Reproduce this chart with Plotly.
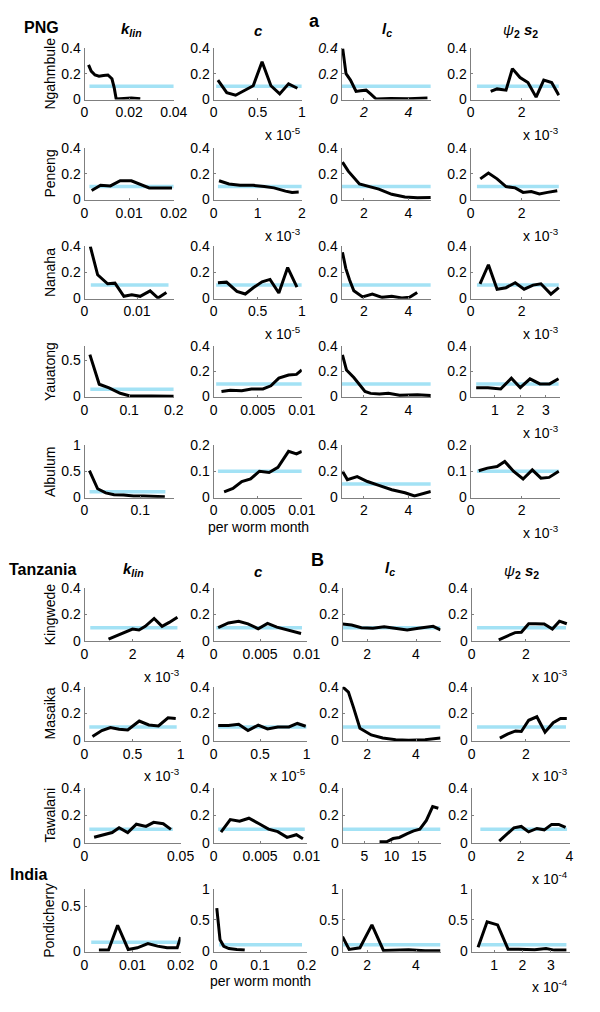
import plotly.graph_objects as go

W, H = 600, 1012
FONT = "Liberation Sans, Arial, sans-serif"

SITES = ["Ngahmbule", "Peneng", "Nanaha", "Yauatong", "Albulum",
         "Kingwede", "Masaika", "Tawalani", "Pondicherry"]

# ---------------- data (posterior curves) ----------------
NGA_KLIN_X = [0.0018, 0.003, 0.0047, 0.0065, 0.0085, 0.0105, 0.0123, 0.0133, 0.0142, 0.017, 0.021, 0.025]
NGA_KLIN_Y = [0.27, 0.22, 0.19, 0.18, 0.185, 0.19, 0.16, 0.09, 0.0, 0.003, 0.008, 0.003]
NGA_C_X = [0.05, 0.15, 0.25, 0.35, 0.45, 0.55, 0.65, 0.75, 0.85, 0.95]
NGA_C_Y = [0.15, 0.05, 0.03, 0.07, 0.105, 0.295, 0.105, 0.04, 0.12, 0.085]
NGA_LC_X = [1.05, 1.2, 1.4, 1.65, 1.85, 2.1, 2.3, 2.55, 3.2, 4.0, 4.85]
NGA_LC_Y = [0.40, 0.20, 0.15, 0.06, 0.065, 0.07, 0.04, 0.0, 0.005, 0.003, 0.008]
NGA_PSI_X = [0.79, 1.04, 1.39, 1.64, 1.94, 2.25, 2.57, 2.87, 3.18, 3.46]
NGA_PSI_Y = [0.06, 0.08, 0.07, 0.24, 0.17, 0.13, 0.015, 0.15, 0.13, 0.03]

PEN_KLIN_X = [0.0016, 0.0036, 0.0058, 0.008, 0.0105, 0.0124, 0.0145, 0.0167, 0.0196]
PEN_KLIN_Y = [0.07, 0.11, 0.105, 0.145, 0.145, 0.12, 0.09, 0.09, 0.09]
PEN_C_X = [0.125, 0.35, 0.6, 0.9, 1.15, 1.37, 1.63, 1.78, 1.93]
PEN_C_Y = [0.145, 0.12, 0.11, 0.11, 0.10, 0.09, 0.065, 0.055, 0.058]
PEN_LC_X = [1.04, 1.3, 1.8, 2.24, 2.67, 3.25, 3.84, 4.4, 5.0]
PEN_LC_Y = [0.29, 0.22, 0.12, 0.10, 0.08, 0.04, 0.02, 0.013, 0.015]
PEN_PSI_X = [0.38, 0.7, 1.04, 1.39, 1.75, 2.06, 2.38, 2.7, 3.02, 3.4]
PEN_PSI_Y = [0.16, 0.205, 0.16, 0.10, 0.09, 0.055, 0.062, 0.043, 0.055, 0.068]

NAN_KLIN_X = [0.0011, 0.0025, 0.0044, 0.0058, 0.0075, 0.009, 0.0106, 0.0125, 0.014, 0.0156]
NAN_KLIN_Y = [0.40, 0.18, 0.11, 0.115, 0.013, 0.025, 0.013, 0.055, 0.0, 0.043]
NAN_C_X = [0.05, 0.147, 0.265, 0.36, 0.45, 0.55, 0.64, 0.74, 0.84, 0.945]
NAN_C_Y = [0.118, 0.123, 0.052, 0.031, 0.079, 0.126, 0.144, 0.039, 0.236, 0.084]
NAN_LC_X = [1.04, 1.19, 1.36, 1.55, 1.94, 2.38, 2.82, 3.25, 3.7, 4.05, 4.39]
NAN_LC_Y = [0.355, 0.23, 0.14, 0.056, 0.008, 0.03, 0.005, 0.013, 0.0, 0.005, 0.043]
NAN_PSI_X = [0.37, 0.70, 1.04, 1.39, 1.75, 2.1, 2.45, 2.76, 3.15, 3.46]
NAN_PSI_Y = [0.109, 0.258, 0.068, 0.08, 0.118, 0.068, 0.1, 0.11, 0.03, 0.08]

YAU_KLIN_X = [0.012, 0.033, 0.055, 0.08, 0.1, 0.125, 0.15, 0.175, 0.2]
YAU_KLIN_Y = [0.58, 0.17, 0.12, 0.045, 0.012, 0.012, 0.008, 0.01, 0.004]
YAU_C_X = [0.0009, 0.0019, 0.0032, 0.0043, 0.0056, 0.0065, 0.0074, 0.0085, 0.0094, 0.01]
YAU_C_Y = [0.04, 0.05, 0.045, 0.06, 0.06, 0.085, 0.145, 0.17, 0.175, 0.21]
YAU_LC_X = [1.04, 1.22, 1.55, 1.8, 2.05, 2.3, 2.7, 3.1, 3.6, 4.0, 4.4, 5.0]
YAU_LC_Y = [0.33, 0.21, 0.15, 0.09, 0.04, 0.025, 0.02, 0.025, 0.01, 0.012, 0.015, 0.008]
YAU_PSI_X = [0.27, 0.73, 1.23, 1.65, 2.0, 2.38, 2.77, 3.15, 3.5]
YAU_PSI_Y = [0.07, 0.07, 0.06, 0.145, 0.07, 0.14, 0.1, 0.1, 0.14]

ALB_KLIN_X = [0.0088, 0.0235, 0.038, 0.053, 0.07, 0.088, 0.106, 0.124, 0.144]
ALB_KLIN_Y = [0.51, 0.16, 0.08, 0.045, 0.04, 0.02, 0.02, 0.013, 0.005]
ALB_C_X = [0.0012, 0.0022, 0.0032, 0.0042, 0.0052, 0.0063, 0.0073, 0.0085, 0.0094, 0.01]
ALB_C_Y = [0.02, 0.033, 0.06, 0.07, 0.10, 0.095, 0.115, 0.177, 0.167, 0.177]
ALB_LC_X = [1.04, 1.26, 1.7, 2.16, 2.67, 3.25, 3.84, 4.27, 5.0]
ALB_LC_Y = [0.2, 0.135, 0.158, 0.12, 0.09, 0.056, 0.033, 0.008, 0.043]
ALB_PSI_X = [0.32, 0.66, 1.04, 1.34, 1.68, 2.06, 2.42, 2.76, 3.08, 3.46]
ALB_PSI_Y = [0.102, 0.112, 0.118, 0.138, 0.10, 0.07, 0.105, 0.073, 0.076, 0.10]

KIN_KLIN_X = [1.0, 1.6, 2.0, 2.27, 2.53, 2.9, 3.23, 3.53, 3.87]
KIN_KLIN_Y = [0.0125, 0.0625, 0.09, 0.083, 0.11, 0.17, 0.11, 0.14, 0.18]
KIN_C_X = [0.0005, 0.0016, 0.0027, 0.0037, 0.0048, 0.0058, 0.0068, 0.008, 0.0094]
KIN_C_Y = [0.10, 0.136, 0.148, 0.129, 0.092, 0.133, 0.104, 0.08, 0.056]
KIN_LC_X = [1.0, 1.37, 1.77, 2.24, 2.7, 3.17, 3.64, 4.1, 4.7, 5.0]
KIN_LC_Y = [0.128, 0.12, 0.10, 0.095, 0.107, 0.095, 0.083, 0.095, 0.11, 0.083]
KIN_PSI_X = [1.0, 1.32, 1.6, 1.83, 2.1, 2.36, 2.67, 2.97, 3.23, 3.5]
KIN_PSI_Y = [0.008, 0.04, 0.0625, 0.065, 0.13, 0.13, 0.128, 0.09, 0.15, 0.13]

MAS_KLIN_X = [0.083, 0.18, 0.27, 0.36, 0.45, 0.57, 0.67, 0.77, 0.87, 0.95]
MAS_KLIN_Y = [0.029, 0.073, 0.095, 0.083, 0.078, 0.144, 0.115, 0.107, 0.168, 0.163]
MAS_C_X = [0.05, 0.16, 0.27, 0.37, 0.48, 0.58, 0.69, 0.81, 0.9, 0.99]
MAS_C_Y = [0.11, 0.11, 0.12, 0.073, 0.114, 0.085, 0.10, 0.10, 0.126, 0.105]
MAS_LC_X = [1.0, 1.24, 1.44, 1.71, 2.17, 2.64, 3.17, 3.7, 4.37, 5.0]
MAS_LC_Y = [0.40, 0.36, 0.25, 0.09, 0.04, 0.017, 0.005, 0.0, 0.005, 0.017]
MAS_PSI_X = [1.04, 1.32, 1.62, 1.83, 2.1, 2.4, 2.7, 3.0, 3.27, 3.5]
MAS_PSI_Y = [0.017, 0.046, 0.07, 0.066, 0.15, 0.176, 0.061, 0.132, 0.163, 0.163]

TAW_KLIN_X = [0.005, 0.01, 0.0144, 0.018, 0.0225, 0.027, 0.032, 0.036, 0.041, 0.045]
TAW_KLIN_Y = [0.041, 0.057, 0.075, 0.11, 0.075, 0.136, 0.12, 0.15, 0.14, 0.098]
TAW_C_X = [0.0008, 0.0018, 0.0028, 0.0038, 0.0049, 0.0059, 0.0069, 0.0079, 0.0089, 0.0096]
TAW_C_Y = [0.078, 0.17, 0.158, 0.18, 0.14, 0.1, 0.082, 0.04, 0.059, 0.03]
TAW_LC_X = [7.8, 9.1, 10.3, 11.45, 12.9, 14.07, 15.2, 16.4, 17.56, 18.6]
TAW_LC_Y = [0.007, 0.007, 0.031, 0.039, 0.067, 0.087, 0.1, 0.164, 0.265, 0.253]
TAW_PSI_X = [1.13, 1.44, 1.73, 2.03, 2.33, 2.67, 2.97, 3.27, 3.56, 3.84]
TAW_PSI_Y = [0.012, 0.06, 0.11, 0.12, 0.08, 0.105, 0.095, 0.135, 0.135, 0.113]

PON_KLIN_X = [0.003, 0.005, 0.0069, 0.0091, 0.011, 0.0132, 0.0152, 0.0172, 0.0193, 0.02]
PON_KLIN_Y = [0.011, 0.011, 0.29, 0.018, 0.036, 0.084, 0.055, 0.036, 0.036, 0.157]
PON_C_X = [0.007, 0.014, 0.022, 0.033, 0.05, 0.067]
PON_C_Y = [0.69, 0.18, 0.077, 0.04, 0.026, 0.015]
PON_LC_X = [1.0, 1.27, 1.71, 2.2, 2.67, 3.3, 3.7, 4.37, 5.0]
PON_LC_Y = [0.23, 0.026, 0.052, 0.42, 0.01, 0.02, 0.02, 0.005, 0.003]
PON_PSI_X = [0.43, 0.75, 1.12, 1.49, 1.86, 2.43, 2.83, 3.12, 3.55]
PON_PSI_Y = [0.06, 0.47, 0.42, 0.03, 0.03, 0.02, 0.04, 0.015, 0.015]

CURVES = [
    [(NGA_KLIN_X, NGA_KLIN_Y), (NGA_C_X, NGA_C_Y), (NGA_LC_X, NGA_LC_Y), (NGA_PSI_X, NGA_PSI_Y)],
    [(PEN_KLIN_X, PEN_KLIN_Y), (PEN_C_X, PEN_C_Y), (PEN_LC_X, PEN_LC_Y), (PEN_PSI_X, PEN_PSI_Y)],
    [(NAN_KLIN_X, NAN_KLIN_Y), (NAN_C_X, NAN_C_Y), (NAN_LC_X, NAN_LC_Y), (NAN_PSI_X, NAN_PSI_Y)],
    [(YAU_KLIN_X, YAU_KLIN_Y), (YAU_C_X, YAU_C_Y), (YAU_LC_X, YAU_LC_Y), (YAU_PSI_X, YAU_PSI_Y)],
    [(ALB_KLIN_X, ALB_KLIN_Y), (ALB_C_X, ALB_C_Y), (ALB_LC_X, ALB_LC_Y), (ALB_PSI_X, ALB_PSI_Y)],
    [(KIN_KLIN_X, KIN_KLIN_Y), (KIN_C_X, KIN_C_Y), (KIN_LC_X, KIN_LC_Y), (KIN_PSI_X, KIN_PSI_Y)],
    [(MAS_KLIN_X, MAS_KLIN_Y), (MAS_C_X, MAS_C_Y), (MAS_LC_X, MAS_LC_Y), (MAS_PSI_X, MAS_PSI_Y)],
    [(TAW_KLIN_X, TAW_KLIN_Y), (TAW_C_X, TAW_C_Y), (TAW_LC_X, TAW_LC_Y), (TAW_PSI_X, TAW_PSI_Y)],
    [(PON_KLIN_X, PON_KLIN_Y), (PON_C_X, PON_C_Y), (PON_LC_X, PON_LC_Y), (PON_PSI_X, PON_PSI_Y)],
]

# uniform prior level and its support
PRIOR_LEVEL = 0.1
PRIOR_START = [
    [0.0022, 0.03, 1, 0.25], [0.0011, 0.1, 1, 0.25], [0.0012, 0.03, 1, 0.25],
    [0.013, 0.0003, 1, 0.27], [0.009, 0.0005, 1, 0.25], [0.24, 0.0003, 1, 0.2],
    [0.05, 0.05, 1, 0.2], [0.0025, 0.0005, 1, 0.36], [0.0014, 0.012, 1, 0.43]]
PRIOR_END = [
    [0.04, 1.0, 5, 3.46], [0.02, 2.0, 5, 3.46], [0.016, 1.0, 5, 3.46],
    [0.2, 0.01, 5, 3.5], [0.145, 0.01, 5, 3.46], [3.87, 0.0095, 5, 3.47],
    [0.96, 1.0, 5, 3.47], [0.046, 0.0098, 19, 3.9], [0.02, 0.19, 5, 3.55]]

# axis ranges / ticks
X_RANGES = [
    [[0, 0.04], [0, 1], [1, 5], [0, 3.5]],
    [[0, 0.02], [0, 2], [1, 5], [0, 3.5]],
    [[0, 0.017], [0, 1], [1, 5], [0, 3.5]],
    [[0, 0.2], [0, 0.01], [1, 5], [0.05, 3.55]],
    [[0, 0.16], [0, 0.01], [1, 5], [0, 3.5]],
    [[0, 4], [0, 0.01], [1, 5], [0, 3.6]],
    [[0, 1], [0, 1], [1, 5], [0, 3.6]],
    [[0, 0.05], [0, 0.01], [1, 19], [0, 4]],
    [[0, 0.02], [0, 0.2], [1, 5], [0.2, 3.66]],
]
X_TICKS = [
    [["0", "0.02", "0.04"], ["0", "0.5", "1"], ["2", "4"], ["0", "2"]],
    [["0", "0.01", "0.02"], ["0", "1", "2"], ["2", "4"], ["0", "2"]],
    [["0", "0.01"], ["0", "0.5", "1"], ["2", "4"], ["0", "2"]],
    [["0", "0.1", "0.2"], ["0", "0.005", "0.01"], ["2", "4"], ["1", "2", "3"]],
    [["0", "0.1"], ["0", "0.005", "0.01"], ["2", "4"], ["0", "2"]],
    [["0", "2", "4"], ["0", "0.005", "0.01"], ["2", "4"], ["0", "2"]],
    [["0", "0.5", "1"], ["0", "0.5", "1"], ["2", "4"], ["0", "2"]],
    [["0", "0.05"], ["0", "0.005", "0.01"], ["5", "10", "15"], ["0", "2", "4"]],
    [["0", "0.01", "0.02"], ["0", "0.1", "0.2"], ["2", "4"], ["1", "2", "3"]],
]
Y_TOPS = [
    [0.4, 0.4, 0.4, 0.4], [0.4, 0.4, 0.4, 0.4], [0.4, 0.4, 0.4, 0.4],
    [0.7, 0.4, 0.4, 0.4], [1, 0.2, 0.4, 0.2], [0.4, 0.4, 0.4, 0.4],
    [0.4, 0.4, 0.4, 0.4], [0.4, 0.4, 0.4, 0.4], [0.7, 1, 1, 1]]
Y_TICKS = {0.4: ["0", "0.2", "0.4"], 0.7: ["0", "0.5"], 1: ["0", "0.5", "1"], 0.2: ["0", "0.1", "0.2"]}
EXPONENTS = [
    [None, "-5", None, "-3"], [None, "-3", None, "-3"], [None, "-5", None, "-3"],
    [None, None, None, "-3"], [None, None, None, "-3"], ["-3", None, None, "-3"],
    ["-3", "-5", None, "-3"], [None, None, None, "-4"], [None, None, None, "-4"]]

# ---------------- layout geometry (pixels) ----------------
ROW_PX = [(41, 93), (142, 195), (242, 295), (343, 395), (444, 497),
          (589, 643), (689, 744), (792, 848), (894, 958)]
COL_PNG = [(83, 175), (216, 307), (348, 440), (481, 573)]
COL_TZ = [(83, 182), (216, 312), (349, 450), (482, 583)]

GRAY = "#7f7f7f"
BLUE = "#a3e2f5"
TICK_SIZE = 14

fig = go.Figure()
layout = dict(width=W, height=H, margin=dict(l=0, r=0, t=0, b=0),
              paper_bgcolor="white", plot_bgcolor="white", showlegend=False,
              font=dict(family=FONT, color="black", size=14))
annotations = []


def px_x(p):
    return p / W


def px_y(p):
    return 1 - p / H


for r in range(9):
    cols = COL_PNG if r < 5 else COL_TZ
    top, bot = ROW_PX[r]
    for c in range(4):
        i = r * 4 + c + 1
        sx = "" if i == 1 else str(i)
        xa, ya = "x" + sx, "y" + sx
        x0, x1 = cols[c]
        xr = X_RANGES[r][c]
        ytop = Y_TOPS[r][c]
        italic = (r == 0 and c == 2)
        tf = dict(size=TICK_SIZE, color="black", family=FONT)
        if italic:
            tf["style"] = "italic"
        xt = X_TICKS[r][c]
        yt = Y_TICKS[ytop]
        layout["xaxis" + sx] = dict(
            domain=[px_x(x0), px_x(x1)], anchor=ya, range=xr,
            tickvals=[float(t) for t in xt], ticktext=xt,
            showline=True, linecolor=GRAY, linewidth=1, ticks="inside",
            ticklen=2, tickcolor=GRAY, showgrid=False, zeroline=False,
            tickfont=tf, fixedrange=True)
        layout["yaxis" + sx] = dict(
            domain=[px_y(bot), px_y(top)], anchor=xa,
            range=[-0.012 * ytop, ytop],
            tickvals=[float(t) for t in yt], ticktext=yt,
            showline=True, linecolor=GRAY, linewidth=1, ticks="inside",
            ticklen=2, tickcolor=GRAY, showgrid=False, zeroline=False,
            tickfont=tf, fixedrange=True)
        # prior line
        fig.add_trace(go.Scatter(
            x=[PRIOR_START[r][c], PRIOR_END[r][c]], y=[PRIOR_LEVEL, PRIOR_LEVEL],
            mode="lines", line=dict(color=BLUE, width=3.5), xaxis=xa, yaxis=ya,
            hoverinfo="skip"))
        # posterior
        cx, cy = CURVES[r][c]
        fig.add_trace(go.Scatter(
            x=cx, y=cy, mode="lines", line=dict(color="black", width=3),
            xaxis=xa, yaxis=ya))
        # exponent labels
        e = EXPONENTS[r][c]
        if e:
            annotations.append(dict(
                text="x 10<sup>%s</sup>" % e, xref="paper", yref="paper",
                x=px_x(x1 + 1), y=px_y(bot + 35), xanchor="right", yanchor="middle",
                showarrow=False, font=dict(size=14, family=FONT)))
    # site label
    annotations.append(dict(
        text=SITES[r], xref="paper", yref="paper", x=px_x(47), y=px_y((top + bot) / 2),
        textangle=-90, xanchor="center", yanchor="middle", showarrow=False,
        font=dict(size=14, family=FONT)))

# x-axis titles
for r, cx in [(4, 262), (8, 264)]:
    annotations.append(dict(
        text="per worm month", xref="paper", yref="paper", x=px_x(cx),
        y=px_y(ROW_PX[r][1] + 30), xanchor="center", yanchor="middle",
        showarrow=False, font=dict(size=14, family=FONT)))

# column & group headings
HEAD_KLIN = "<b><i>k</i></b><sub><b><i>lin</i></b></sub>"
HEAD_C = "<b><i>c</i></b>"
HEAD_LC = "<b><i>l</i></b><sub><b><i>c</i></b></sub>"
HEAD_PSI = "<i>ψ</i><sub><b>2</b></sub> <b><i>s</i></b><sub><b>2</b></sub>"
headings = [
    ("PNG", 39, 20, 16), (HEAD_KLIN, 131, 22, 15), (HEAD_C, 262, 23, 15),
    ("<b>a</b>", 320, 13, 18), (HEAD_LC, 395, 22, 15), (HEAD_PSI, 532, 23, 15),
    ("Tanzania", 40, 570, 16), (HEAD_KLIN, 133, 570, 15), (HEAD_C, 262, 572, 15),
    ("<b>B</b>", 323, 560, 18), (HEAD_LC, 398, 569, 15), (HEAD_PSI, 533, 572, 15),
    ("India", 25, 880, 16)]
for txt, hx, hy, fs in headings:
    if txt in ("PNG", "Tanzania", "India"):
        txt = "<b>%s</b>" % txt
    annotations.append(dict(
        text=txt, xref="paper", yref="paper", x=px_x(hx), y=px_y(hy),
        xanchor="center", yanchor="middle", showarrow=False,
        font=dict(size=fs, family=FONT)))

layout["annotations"] = annotations
fig.update_layout(**layout)
fig.write_html(
    "out.html",
    config={"displayModeBar": False, "staticPlot": True},
    post_script="document.body.style.margin='0';document.body.style.overflow='hidden';")
